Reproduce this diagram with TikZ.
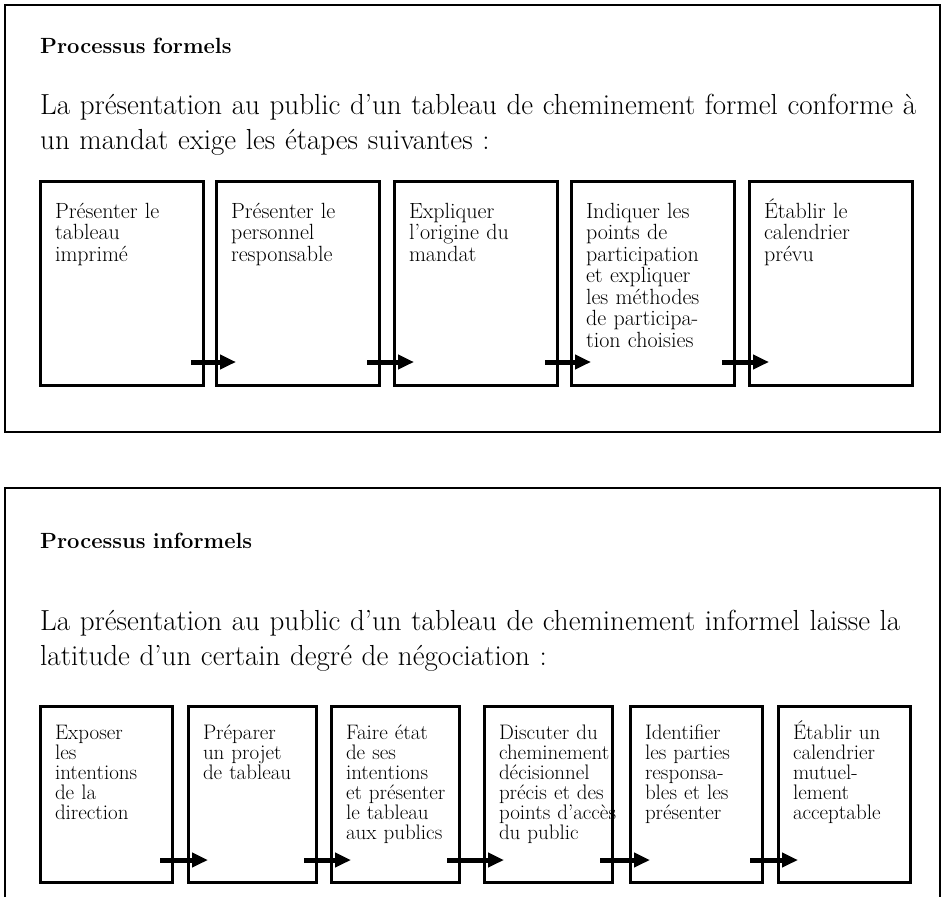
\documentclass[tikz,border=0pt]{standalone}
\usepackage{fontspec}
\usetikzlibrary{arrows.meta}

\begin{document}
\begin{tikzpicture}[
    x=1pt, y=-1pt,
    panel/.style={line width=2.2pt},
    heading/.style={anchor=base west, inner sep=0pt, text width=600pt,
      font=\fontsize{22}{24}\selectfont\bfseries},
    intro/.style={anchor=base west, inner sep=0pt, text width=900pt,
      align=left, font=\fontsize{29}{35}\selectfont},
    stepbox/.style={draw, line width=3pt, anchor=north west, outer sep=0pt,
      inner xsep=15pt, inner ysep=0pt, text width=#1pt-30pt, align=left},
    upper/.style={text height=37pt, text depth=167pt,
      font=\fontsize{22}{21.5}\selectfont},
    lower/.style={text height=33pt, text depth=143pt,
      font=\fontsize{21}{20}\selectfont},
    narrow/.style={font=\fontsize{21}{20}\selectfont\addfontfeatures{FakeStretch=0.8}},
    flow/.style={line width=5pt, -{Triangle[length=16pt,width=14pt]}}
  ]
    \useasboundingbox (0,0) rectangle (944,897);

    \draw[panel] (5,5) rectangle (940,432);
    \node[heading] (ftitle) at (40,53) {Processus formels};
    \node[intro] (fintro) at (40,114)
      {La présentation au public d’un tableau de cheminement formel conforme à\\
       un mandat exige les étapes suivantes~:};

    \node[stepbox=163, upper] (f1) at (40,181)
      {Présenter~le\\ tableau\\ imprimé};
    \node[stepbox=163, upper] (f2) at (216,181)
      {Présenter~le\\ personnel\\ responsable};
    \node[stepbox=163, upper] (f3) at (394,181)
      {Expliquer\\ l’origine~du\\ mandat};
    \node[stepbox=163, upper] (f4) at (571,181)
      {Indiquer~les\\ points~de\\ participation\\ et~expliquer\\
       les~méthodes\\ de~participa-\\ tion~choisies};
    \node[stepbox=163, upper] (f5) at (749,181)
      {Établir~le\\ calendrier\\ prévu};

    \draw[flow] ([shift={(-12,-23)}]f1.south east) -- ([shift={(20,-23)}]f2.south west);
    \draw[flow] ([shift={(-12,-23)}]f2.south east) -- ([shift={(20,-23)}]f3.south west);
    \draw[flow] ([shift={(-12,-23)}]f3.south east) -- ([shift={(20,-23)}]f4.south west);
    \draw[flow] ([shift={(-12,-23)}]f4.south east) -- ([shift={(20,-23)}]f5.south west);

    \draw[panel] (5,897) -- (5,488) -- (940,488) -- (940,897);
    \node[heading] (ititle) at (40,548) {Processus informels};
    \node[intro] (iintro) at (40,630)
      {La présentation au public d’un tableau de cheminement informel laisse la\\
       latitude d’un certain degré de négociation~:};

    \node[stepbox=132, lower] (i1) at (40,706)
      {Exposer\\ les\\ intentions\\ de~la\\ direction};
    \node[stepbox=128, lower] (i2) at (188,706)
      {Préparer\\ un~projet\\ de~tableau};
    \node[stepbox=128, lower] (i3) at (331,706)
      {Faire~état\\ de~ses\\ intentions\\ \mbox{et présenter}\\ le~tableau\\ aux~publics};
    \node[stepbox=128, lower, narrow] (i4) at (484,706)
      {Discuter~du\\ cheminement\\ décisionnel\\ précis~et~des\\
       points~d’accès\\ du~public};
    \node[stepbox=132, lower] (i5) at (630,706)
      {Identifier\\ les~parties\\ responsa-\\ bles~et~les\\ présenter};
    \node[stepbox=132, lower] (i6) at (778,706)
      {Établir~un\\ calendrier\\ mutuel-\\ lement\\ acceptable};

    \draw[flow] ([shift={(-12,-22)}]i1.south east) -- ([shift={(20,-22)}]i2.south west);
    \draw[flow] ([shift={(-12,-22)}]i2.south east) -- ([shift={(20,-22)}]i3.south west);
    \draw[flow] ([shift={(-12,-22)}]i3.south east) -- ([shift={(20,-22)}]i4.south west);
    \draw[flow] ([shift={(-12,-22)}]i4.south east) -- ([shift={(20,-22)}]i5.south west);
    \draw[flow] ([shift={(-12,-22)}]i5.south east) -- ([shift={(20,-22)}]i6.south west);
  \end{tikzpicture}
\end{document}
